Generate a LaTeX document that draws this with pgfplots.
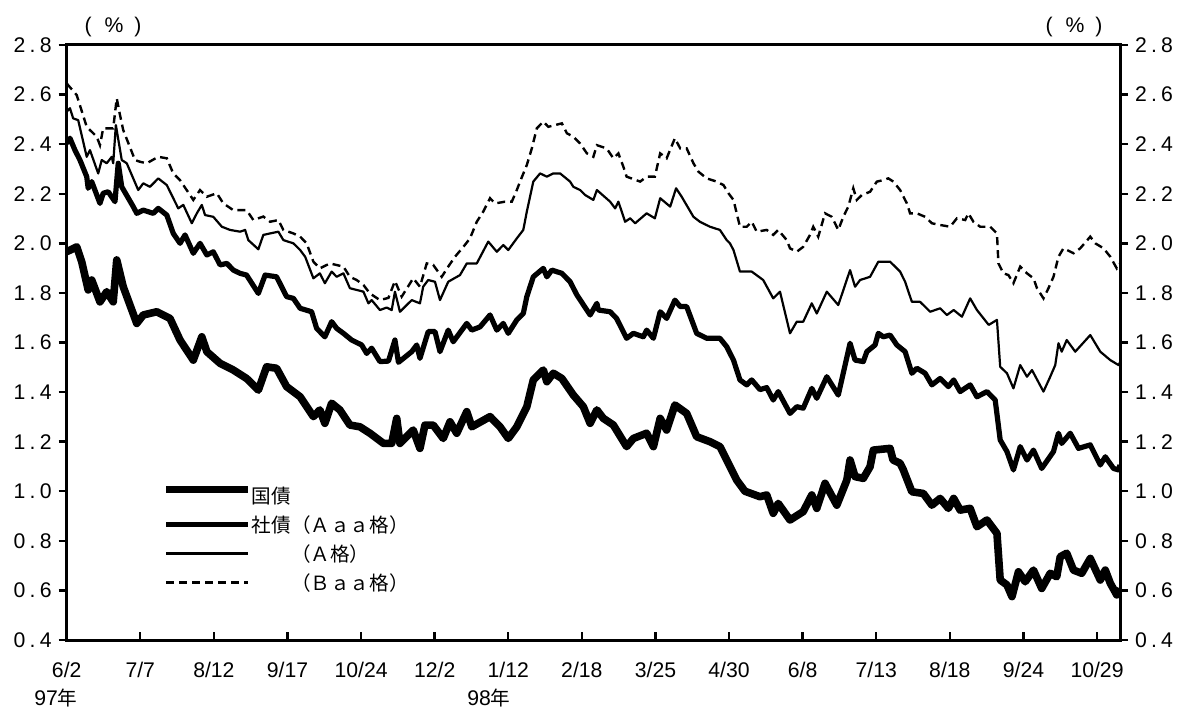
\documentclass[border=0pt]{standalone}
\usepackage{fontspec}
\setmainfont{Liberation Sans}
\newfontfamily\jp{Noto Sans CJK JP}
\usepackage{pgfplots}
\pgfplotsset{compat=1.18}
\newcommand\yl[2]{#1\kern0.2em.\kern0.2em#2}
\begin{document}
\begin{tikzpicture}
\useasboundingbox (0,0) rectangle (589pt,354pt);
\pgfplotsset{
 base/.style={
   at={(33.35pt,34pt)}, anchor=south west, scale only axis,
   width=526.65pt, height=297.5pt,
   xmin=0, xmax=357.8, ymin=0.4, ymax=2.8,
   tick style={line width=1.2pt, black},
   major tick length=4pt,
   ticklabel style={font=\fontsize{10.6}{12}\selectfont},
 }
}
\begin{axis}[base,
  ytick=\empty,
  xtick={0,25,50,75,100,125,150,175,200,225,250,275,300,325,350},
  xticklabels={6/2,7/7,8/12,9/17,10/24,12/2,1/12,2/18,3/25,4/30,6/8,7/13,8/18,9/24,10/29},
  xticklabel style={yshift=-7.5pt},
  tick align=inside, xtick pos=bottom,
  axis line style={line width=1.5pt},
  legend style={at={(axis cs:30.3,1.04)}, anchor=north west, draw=none, fill=none,
    font=\jp\fontsize{9.8}{11}\selectfont, row sep=4.5pt,
    nodes={inner sep=0pt, text height=8.5pt, text depth=1.5pt},
    /tikz/every even column/.append style={column sep=2pt}},
  legend cell align=left,
  legend image code/.code={\draw[#1] (0pt,0.5pt) -- (41pt,0.5pt);},
]
\addplot[black, line width=3.8pt, line join=round,
  legend image post style={yshift=3pt}] coordinates {
(0,1.966)(3.4,1.986)(5.1,1.926)(7.3,1.812)(8.5,1.852)(11.3,1.764)(13.6,1.805)(15.8,1.764)(17.0,1.933)(19.2,1.825)(23.8,1.677)(26.0,1.711)(30.6,1.724)(35.1,1.697)(38.5,1.610)(43.0,1.529)(45.9,1.623)(47.6,1.563)(52.1,1.516)(56.6,1.489)(61.1,1.455)(65.1,1.408)(67.9,1.502)(71.3,1.496)(74.7,1.422)(79.3,1.381)(83.8,1.301)(86.0,1.328)(87.7,1.274)(90.0,1.355)(92.8,1.328)(96.2,1.267)(99.6,1.260)(103.0,1.234)(107.6,1.193)(110.4,1.193)(112.1,1.294)(113.2,1.193)(117.7,1.247)(120.0,1.173)(121.7,1.267)(124.5,1.267)(127.9,1.213)(130.2,1.280)(132.5,1.234)(135.9,1.321)(137.6,1.260)(143.8,1.301)(147.2,1.260)(150.0,1.213)(152.9,1.260)(156.3,1.341)(158.5,1.449)(161.9,1.489)(163.1,1.442)(165.3,1.476)(168.2,1.455)(172.1,1.388)(175.5,1.341)(177.8,1.274)(180.1,1.328)(182.3,1.294)(185.7,1.267)(190.2,1.180)(192.5,1.213)(197.0,1.234)(199.3,1.180)(201.6,1.294)(203.8,1.247)(206.6,1.348)(210.6,1.314)(214.0,1.220)(218.5,1.200)(221.9,1.180)(227.6,1.045)(230.4,1.000)(235.5,0.978)(237.8,0.985)(240.0,0.911)(241.7,0.951)(245.7,0.884)(250.2,0.918)(253.1,0.985)(254.8,0.931)(257.6,1.032)(261.6,0.944)(265.0,1.045)(266.1,1.126)(267.8,1.059)(270.6,1.052)(272.9,1.099)(274.0,1.166)(279.7,1.173)(280.7,1.126)(283.1,1.113)(284.2,1.086)(287.1,0.998)(291.0,0.991)(293.9,0.944)(296.7,0.971)(299.5,0.931)(301.3,0.971)(303.5,0.924)(306.9,0.931)(309.2,0.857)(312.6,0.884)(316.0,0.830)(317.1,0.642)(319.4,0.622)(321.1,0.575)(323.3,0.675)(325.6,0.635)(328.4,0.682)(331.2,0.608)(334.1,0.669)(336.3,0.655)(337.5,0.736)(339.7,0.750)(342.0,0.682)(344.8,0.669)(347.7,0.729)(351.1,0.642)(352.8,0.682)(354.5,0.629)(356.7,0.582)(357.8,0.608)
};
\addlegendentry{国債}
\addplot[black, line width=2.6pt, line join=round] coordinates {
(0,2.403)(1.1,2.424)(2.8,2.376)(4.5,2.336)(6.8,2.269)(7.3,2.222)(8.5,2.249)(11.3,2.161)(12.4,2.202)(14.1,2.208)(16.4,2.168)(17.5,2.323)(18.7,2.228)(22.6,2.148)(23.8,2.121)(26.0,2.134)(29.4,2.121)(31.1,2.141)(34.0,2.114)(36.2,2.040)(38.5,2.000)(40.2,2.034)(43.0,1.960)(45.3,2.000)(47.6,1.953)(49.8,1.966)(52.1,1.913)(54.4,1.919)(56.6,1.892)(58.9,1.879)(61.1,1.872)(65.1,1.798)(67.4,1.872)(71.3,1.865)(74.7,1.785)(77.0,1.778)(79.3,1.738)(83.2,1.724)(84.9,1.657)(87.7,1.623)(90.0,1.684)(91.7,1.657)(94.0,1.637)(96.8,1.610)(100.2,1.590)(101.9,1.556)(103.6,1.577)(106.4,1.523)(109.3,1.525)(111.5,1.610)(112.7,1.520)(117.2,1.563)(118.9,1.590)(120.0,1.536)(122.8,1.644)(125.1,1.644)(126.8,1.563)(129.6,1.650)(131.3,1.603)(135.9,1.677)(137.6,1.650)(140.4,1.663)(143.8,1.711)(146.1,1.650)(148.3,1.677)(150.0,1.637)(152.9,1.691)(155.1,1.717)(156.3,1.785)(158.5,1.865)(161.9,1.899)(163.1,1.865)(164.8,1.892)(168.2,1.879)(171.0,1.845)(173.3,1.792)(177.8,1.711)(180.1,1.758)(180.6,1.731)(184.6,1.724)(186.8,1.697)(190.2,1.617)(192.5,1.637)(195.9,1.623)(197.0,1.650)(199.3,1.617)(201.6,1.724)(203.8,1.697)(206.6,1.771)(208.4,1.745)(210.6,1.745)(214.0,1.637)(217.4,1.617)(221.9,1.617)(224.2,1.583)(226.5,1.529)(228.7,1.449)(231.0,1.429)(232.7,1.449)(235.5,1.410)(237.8,1.418)(240.0,1.368)(241.7,1.402)(245.7,1.314)(248.0,1.341)(250.2,1.335)(253.1,1.415)(254.8,1.375)(258.2,1.462)(262.1,1.388)(266.1,1.597)(267.8,1.529)(270.6,1.523)(271.8,1.563)(274.6,1.590)(275.7,1.637)(277.4,1.623)(279.7,1.630)(282.0,1.590)(284.8,1.563)(287.1,1.476)(288.8,1.496)(291.6,1.476)(293.9,1.429)(296.7,1.455)(299.5,1.422)(301.3,1.449)(303.5,1.402)(306.9,1.429)(309.2,1.381)(312.6,1.402)(315.4,1.368)(317.1,1.207)(319.4,1.160)(321.6,1.086)(323.9,1.180)(326.2,1.126)(328.4,1.166)(331.2,1.092)(335.2,1.160)(336.9,1.234)(338.0,1.193)(340.9,1.234)(343.7,1.173)(347.7,1.187)(351.1,1.106)(352.8,1.139)(355.6,1.092)(357.3,1.086)(357.8,1.106)
};
\addlegendentry{社債（Ａａａ格）}
\addplot[black, line width=1.1pt, line join=round] coordinates {
(0,2.531)(1.1,2.545)(2.2,2.504)(3.9,2.497)(6.8,2.349)(7.9,2.376)(10.7,2.282)(11.9,2.336)(13.6,2.323)(15.3,2.349)(15.8,2.323)(16.7,2.477)(18.7,2.336)(20.4,2.323)(24.3,2.215)(26.0,2.242)(28.3,2.228)(31.1,2.262)(34.0,2.235)(37.9,2.141)(39.6,2.155)(42.5,2.081)(44.2,2.121)(45.9,2.155)(47.0,2.114)(49.8,2.107)(52.7,2.067)(55.5,2.054)(58.9,2.047)(60.6,2.054)(61.7,2.013)(65.1,1.976)(66.8,2.034)(69.1,2.040)(71.9,2.047)(73.6,2.013)(77.0,2.000)(79.3,1.973)(81.0,1.946)(83.8,1.859)(86.0,1.879)(87.7,1.839)(90.0,1.886)(91.7,1.865)(94.0,1.879)(96.2,1.819)(100.8,1.805)(102.5,1.758)(103.6,1.771)(106.4,1.731)(108.7,1.741)(110.4,1.731)(111.5,1.805)(113.2,1.724)(117.2,1.771)(120.0,1.758)(121.1,1.825)(122.8,1.852)(125.1,1.845)(126.8,1.771)(129.6,1.845)(133.6,1.872)(135.9,1.919)(139.3,1.919)(143.2,2.007)(146.1,1.966)(148.3,1.993)(150.0,1.973)(152.9,2.020)(155.1,2.054)(156.3,2.128)(158.5,2.249)(160.8,2.282)(163.1,2.269)(165.3,2.282)(167.6,2.282)(171.0,2.249)(172.1,2.228)(174.4,2.215)(176.1,2.195)(178.9,2.175)(180.1,2.215)(184.6,2.168)(186.3,2.141)(187.4,2.168)(189.7,2.087)(191.4,2.101)(193.1,2.081)(197.0,2.121)(199.8,2.101)(201.6,2.182)(205.0,2.148)(207.0,2.222)(208.9,2.188)(212.9,2.107)(215.1,2.087)(218.5,2.067)(221.9,2.054)(224.2,2.013)(225.3,2.000)(226.5,1.973)(228.7,1.886)(232.7,1.886)(236.6,1.852)(240.0,1.778)(242.3,1.805)(245.7,1.637)(248.0,1.684)(250.2,1.684)(253.1,1.758)(254.8,1.717)(258.2,1.805)(262.1,1.751)(266.1,1.892)(267.8,1.825)(269.5,1.852)(272.9,1.865)(275.7,1.926)(279.7,1.926)(283.1,1.886)(284.8,1.845)(287.1,1.764)(289.9,1.764)(293.3,1.724)(296.7,1.738)(299.0,1.711)(301.3,1.731)(304.1,1.704)(306.9,1.778)(309.2,1.731)(313.2,1.671)(316.0,1.691)(317.1,1.502)(319.4,1.476)(321.6,1.415)(323.9,1.509)(326.2,1.462)(327.9,1.489)(331.8,1.402)(334.1,1.462)(335.8,1.509)(336.9,1.597)(338.0,1.563)(339.7,1.610)(342.6,1.563)(347.7,1.630)(351.1,1.563)(354.5,1.529)(357.3,1.509)(357.8,1.520)
};
\addlegendentry{\phantom{社債}（Ａ格）}
\addplot[black, line width=1.2pt, dash pattern=on 4pt off 2.5pt] coordinates {
(0,2.645)(3.4,2.598)(6.8,2.470)(10.2,2.430)(11.3,2.396)(12.4,2.464)(15.8,2.464)(17.0,2.585)(18.1,2.518)(19.2,2.457)(23.2,2.336)(24.9,2.329)(27.2,2.323)(31.1,2.349)(34.0,2.343)(36.2,2.282)(38.5,2.255)(43.0,2.175)(45.3,2.215)(47.6,2.188)(51.0,2.202)(53.2,2.161)(56.6,2.134)(61.1,2.134)(63.4,2.094)(66.8,2.108)(69.1,2.087)(71.9,2.094)(73.6,2.054)(77.0,2.040)(79.3,2.027)(81.5,2.000)(83.8,1.926)(86.0,1.899)(89.4,1.919)(94.0,1.906)(96.2,1.865)(98.5,1.852)(100.8,1.832)(103.0,1.798)(106.4,1.771)(109.3,1.780)(111.5,1.848)(113.8,1.785)(117.7,1.859)(120.0,1.825)(122.3,1.919)(124.5,1.913)(127.4,1.865)(129.6,1.906)(131.9,1.946)(134.7,1.985)(137.0,2.020)(139.3,2.087)(141.5,2.128)(143.8,2.182)(145.5,2.161)(148.9,2.168)(151.2,2.168)(152.9,2.215)(154.0,2.249)(156.3,2.316)(158.0,2.383)(159.7,2.464)(161.9,2.491)(163.6,2.470)(168.2,2.484)(169.9,2.444)(172.1,2.430)(174.4,2.403)(176.7,2.363)(178.9,2.349)(180.1,2.396)(183.4,2.383)(185.7,2.343)(187.4,2.363)(189.1,2.309)(190.2,2.269)(194.8,2.249)(197.0,2.269)(199.8,2.269)(201.6,2.363)(203.8,2.343)(206.6,2.424)(208.4,2.383)(210.6,2.383)(212.9,2.323)(214.6,2.289)(217.4,2.262)(220.8,2.249)(223.1,2.235)(224.8,2.202)(226.5,2.175)(227.6,2.121)(228.7,2.067)(231.0,2.067)(232.7,2.087)(234.4,2.047)(237.8,2.054)(240.0,2.034)(241.7,2.054)(244.6,2.013)(245.7,1.980)(248.0,1.966)(250.2,1.986)(252.5,2.034)(253.6,2.067)(255.3,2.027)(257.6,2.121)(259.9,2.107)(262.1,2.054)(263.8,2.107)(265.5,2.148)(267.2,2.222)(268.4,2.175)(270.1,2.195)(272.9,2.208)(275.2,2.249)(277.4,2.255)(279.1,2.262)(280.8,2.249)(283.1,2.215)(285.4,2.161)(286.5,2.121)(288.8,2.121)(291.6,2.107)(293.9,2.081)(296.7,2.074)(300.1,2.067)(302.4,2.101)(305.2,2.094)(306.3,2.121)(308.0,2.087)(310.3,2.067)(313.7,2.067)(316.0,2.040)(316.5,1.919)(318.2,1.879)(319.9,1.872)(321.6,1.839)(323.9,1.906)(326.2,1.879)(328.4,1.859)(329.6,1.819)(331.8,1.778)(333.5,1.819)(335.2,1.865)(336.9,1.946)(338.6,1.980)(342.0,1.960)(344.3,1.980)(347.7,2.027)(349.4,2.000)(352.2,1.980)(354.5,1.946)(356.7,1.899)(357.8,1.919)
};
\addlegendentry{\phantom{社債}（Ｂａａ格）}
\end{axis}
\begin{axis}[base, hide x axis, axis line style={draw=none},
  ytick={0.4,0.6,0.8,1.0,1.2,1.4,1.6,1.8,2.0,2.2,2.4,2.6,2.8},
  yticklabels={\yl04,\yl06,\yl08,\yl10,\yl12,\yl14,\yl16,\yl18,\yl20,\yl22,\yl24,\yl26,\yl28},
  tick align=outside, ytick pos=left]
\end{axis}
\begin{axis}[base, hide x axis, axis line style={draw=none},
  ytick={0.4,0.6,0.8,1.0,1.2,1.4,1.6,1.8,2.0,2.2,2.4,2.6,2.8},
  yticklabels={\yl04,\yl06,\yl08,\yl10,\yl12,\yl14,\yl16,\yl18,\yl20,\yl22,\yl24,\yl26,\yl28},
  tick align=outside, ytick pos=right, yticklabel pos=right]
\end{axis}
\node[font=\fontsize{10.6}{12}\selectfont] at (56.5pt,340.5pt) {(\hspace{6.5pt}\%\hspace{5.5pt})};
\node[font=\fontsize{10.6}{12}\selectfont] at (537pt,340.5pt) {(\hspace{6.5pt}\%\hspace{5.5pt})};
\node[font=\fontsize{10.6}{12}\selectfont] at (28pt,5pt) {97{\jp\fontsize{9.8}{11}\selectfont 年}};
\node[font=\fontsize{10.6}{12}\selectfont] at (244.5pt,5pt) {98{\jp\fontsize{9.8}{11}\selectfont 年}};
\end{tikzpicture}
\end{document}
